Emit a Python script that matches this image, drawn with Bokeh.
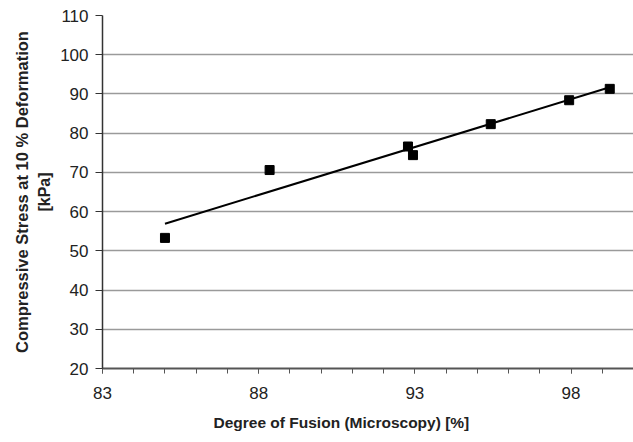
import numpy as np
from bokeh.plotting import figure
from bokeh.models import FixedTicker, Title, Range1d
from bokeh.embed import file_html
from bokeh.resources import INLINE

# Data
fusion = [85.0, 88.35, 92.78, 92.94, 95.43, 97.94, 99.24]
stress = [53.3, 70.6, 76.6, 74.4, 82.3, 88.4, 91.3]
x_ticks = [83, 88, 93, 98]
y_ticks = [20, 30, 40, 50, 60, 70, 80, 90, 100, 110]

FONT = "Liberation Sans"

p = figure(width=633, height=442, output_backend="svg", toolbar_location=None,
           x_range=Range1d(83, 100), y_range=Range1d(20, 110),
           min_border_left=102, min_border_top=15, min_border_right=0,
           min_border_bottom=74)
p.outline_line_color = None
p.background_fill_color = "white"
p.border_fill_color = "white"

# grid
p.xgrid.grid_line_color = None
p.ygrid.ticker = FixedTicker(ticks=y_ticks)
p.ygrid.grid_line_color = "#9a9a9a"
p.ygrid.grid_line_width = 1.5

# x axis
xa = p.xaxis[0]
xa.ticker = FixedTicker(ticks=x_ticks, minor_ticks=list(range(83, 101)))
xa.axis_line_color = "#555555"
xa.axis_line_width = 2
xa.major_tick_line_color = "#555555"
xa.minor_tick_line_color = "#555555"
xa.major_tick_out = 5
xa.major_tick_in = 0
xa.minor_tick_out = 5
xa.minor_tick_in = 0
xa.major_label_text_font = FONT
xa.major_label_text_font_size = "17px"
xa.major_label_text_color = "#222222"
xa.major_label_standoff = 13

# y axis
ya = p.yaxis[0]
ya.ticker = FixedTicker(ticks=y_ticks)
ya.axis_line_color = "#333333"
ya.axis_line_width = 1.5
ya.major_tick_line_color = "#333333"
ya.major_tick_out = 7
ya.major_tick_in = 0
ya.minor_tick_out = 0
ya.major_label_text_font = FONT
ya.major_label_text_font_size = "17px"
ya.major_label_text_color = "#222222"
ya.major_label_standoff = 7
ya.axis_label = "[kPa]"
ya.axis_label_text_font = FONT
ya.axis_label_text_font_size = "16px"
ya.axis_label_text_font_style = "bold"
ya.axis_label_text_color = "#222222"
ya.axis_label_standoff = 4

ytitle = Title(text="Compressive Stress at 10 % Deformation", align="center",
               text_font=FONT, text_font_size="16.5px", text_font_style="bold",
               text_color="#222222", standoff=6)
p.add_layout(ytitle, "left")

xtitle = Title(text="Degree of Fusion (Microscopy) [%]", align="left",
               offset=111, text_font=FONT, text_font_size="15.5px",
               text_font_style="bold", text_color="#222222", standoff=21)
p.add_layout(xtitle, "below")

# trend line from least-squares fit of the points
coef = np.polyfit(fusion, stress, 1)
xl = [min(fusion), max(fusion)]
yl = [coef[0] * v + coef[1] for v in xl]
p.line(xl, yl, line_color="black", line_width=2)

p.scatter(fusion, stress, marker="square", size=9, fill_color="black",
          line_color="black")

open("out.html", "w").write(file_html(p, INLINE))
